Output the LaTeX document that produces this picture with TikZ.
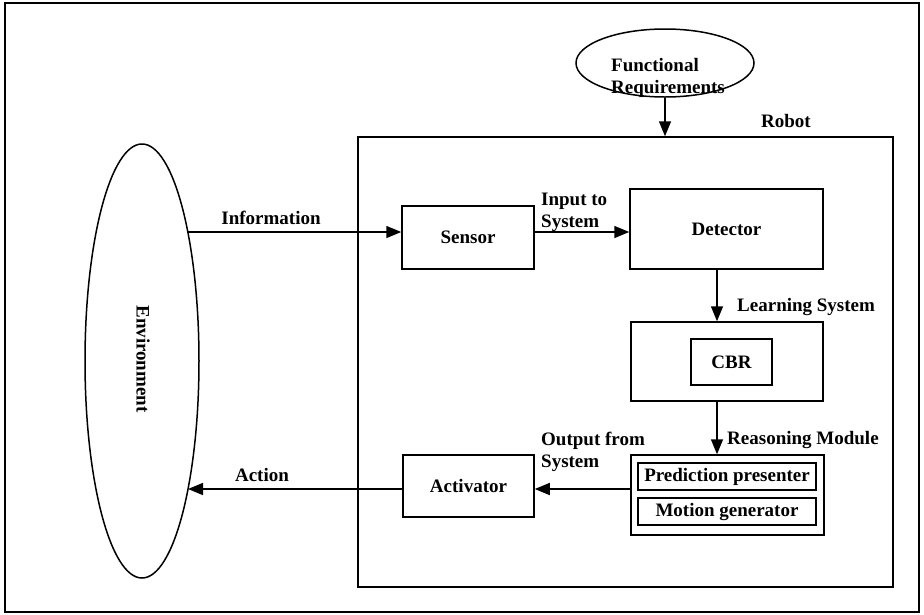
\documentclass[tikz,border=0pt]{standalone}
\usepackage{fontspec}
\setmainfont{Liberation Serif}
\usetikzlibrary{arrows.meta,shapes.geometric,calc}
\begin{document}
\begin{tikzpicture}[x=1pt,y=-1pt,
  every node/.style={font=\fontsize{19}{22}\selectfont\bfseries},
  ln/.style={line width=1.5pt},
  boxn/.style={draw,line width=1.5pt,rectangle,inner sep=0pt},
  txt/.style={inner sep=0pt,align=left},
  arr/.style={line width=1.5pt,-{Triangle[length=15pt,width=12pt]}}]
\useasboundingbox (0,0) rectangle (924,614);
% outer frame
\node[boxn,minimum width=914pt,minimum height=609pt] (frame) at (462,307.5) {};
% environment
\node[draw,ln,ellipse,inner sep=0pt,minimum width=114pt,minimum height=434pt] (env) at (142,361) {};
\node[rotate=-90,inner sep=0pt] (envt) at (143,359) {Environment};
% functional requirements
\node[draw,ln,ellipse,inner sep=0pt,minimum width=178pt,minimum height=68pt] (fr) at (665,63) {};
\node[txt,anchor=west] (frt) at (611,78) {Functional\\Requirements};
% robot
\node[boxn,minimum width=535pt,minimum height=450pt] (robot) at (625.5,362) {};
\node[inner sep=0pt] (robott) at (786,121) {Robot};
% boxes
\node[boxn,minimum width=132pt,minimum height=63pt] (sensor) at (468,237.5) {Sensor};
\node[boxn,minimum width=193pt,minimum height=80pt] (det) at (726.5,229) {Detector};
\node[boxn,minimum width=192pt,minimum height=79pt] (lrn) at (727,361.5) {};
\node[boxn,minimum width=81pt,minimum height=46pt] (cbr) at (731.5,362) {CBR};
\node[boxn,minimum width=193pt,minimum height=80pt] (rsn) at (727.5,495) {};
\node[boxn,minimum width=178pt,minimum height=27pt] (pp) at (727,476.5) {Prediction presenter};
\node[boxn,minimum width=178pt,minimum height=27pt] (mg) at (727,511.5) {Motion generator};
\node[boxn,minimum width=131pt,minimum height=62pt] (act) at (468.5,486) {Activator};
% helper coordinates
\coordinate (yin) at (0,232);
\coordinate (yout) at (0,489);
\coordinate (xv) at (717,0);
\coordinate (envin) at (188,232);
\coordinate (envout) at (188,489);
% arrows
\draw[arr] (fr.south) -- (fr.south |- robot.north);
\draw[arr] (envin) -- (envin -| sensor.west);
\draw[arr] (sensor.east |- yin) -- (det.west |- yin);
\draw[arr] (det.south -| xv) -- (lrn.north -| xv);
\draw[arr] (lrn.south -| xv) -- (rsn.north -| xv);
\draw[arr] (rsn.west |- yout) -- (act.east |- yout);
\draw[arr] (act.west |- yout) -- (envout);
% labels
\node[inner sep=0pt] (linfo) at (271,218) {Information};
\node[txt,anchor=west] (linput) at (541,212) {Input to\\System};
\node[txt,anchor=west] (llearn) at (737,307) {Learning System};
\node[txt,anchor=west] (lreason) at (727,440) {Reasoning Module};
\node[txt,anchor=west] (loutput) at (541,452) {Output from\\System};
\node[inner sep=0pt] (laction) at (262,475) {Action};
\end{tikzpicture}
\end{document}
